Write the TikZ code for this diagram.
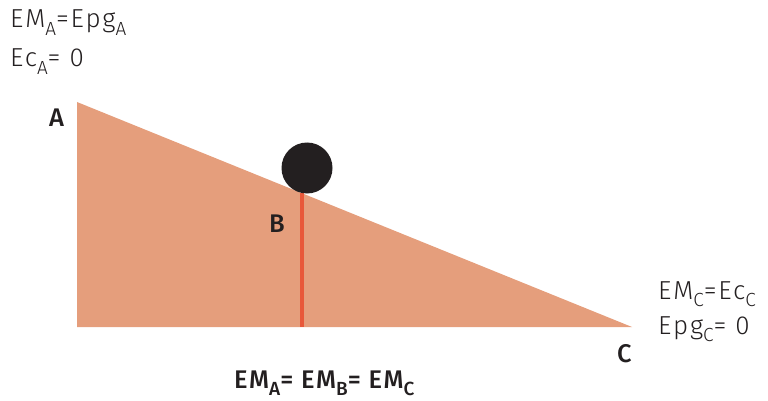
\documentclass[tikz,border=0pt]{standalone}
\usepackage{fontspec}
\setmainfont{Fira Sans}[UprightFont=* Light, BoldFont=* Medium]
\newfontfamily\thinf{Fira Sans}[UprightFont=* Light, LetterSpace=7]
\newfontfamily\medf{Fira Sans}[UprightFont=* Medium, LetterSpace=6]
\definecolor{wedge}{HTML}{E59E7C}
\definecolor{redline}{HTML}{E8583A}
\definecolor{ball}{HTML}{231F20}
\newcommand{\sbs}[1]{\raisebox{-7.5pt}{\fontsize{19}{19}\selectfont #1}}
\begin{document}
\begin{tikzpicture}[x=1pt,y=-1pt,
  lbl/.style={anchor=base west,inner sep=0pt,font=\thinf\fontsize{26}{26}\selectfont,text=ball},
  pt/.style={anchor=base west,inner sep=0pt,font=\medf\fontsize{25.5}{25.5}\selectfont,text=ball}]
\useasboundingbox (0,0) rectangle (768,401);
\coordinate (A) at (77,102);
\coordinate (O) at (77,327);
\coordinate (C) at (632,327);
\coordinate (Bt) at (302,193.2);
\coordinate (Bb) at (302,327);
\fill[wedge] (A) -- (C) -- (O) -- cycle;
\draw[redline,line width=3.5pt] (Bt) -- (Bb);
\fill[ball] (307,168) circle (25.5);
\node[lbl] (t1) at (10,28) {EM\sbs{A}=Epg\sbs{A}};
\node[lbl] (t2) at (10,67) {Ec\sbs{A}= 0};
\node[lbl] (t3) at (658,299) {EM\sbs{C}=Ec\sbs{C}};
\node[lbl] (t4) at (658,334) {Epg\sbs{C}= 0};
\node[pt] (la) at (49,127) {A};
\node[pt] (lb) at (269,232) {B};
\node[pt] (lc) at (617,362) {C};
\node[pt] (eq) at (234,388) {EM\sbs{A}= EM\sbs{B}= EM\sbs{C}};
\end{tikzpicture}
\end{document}
